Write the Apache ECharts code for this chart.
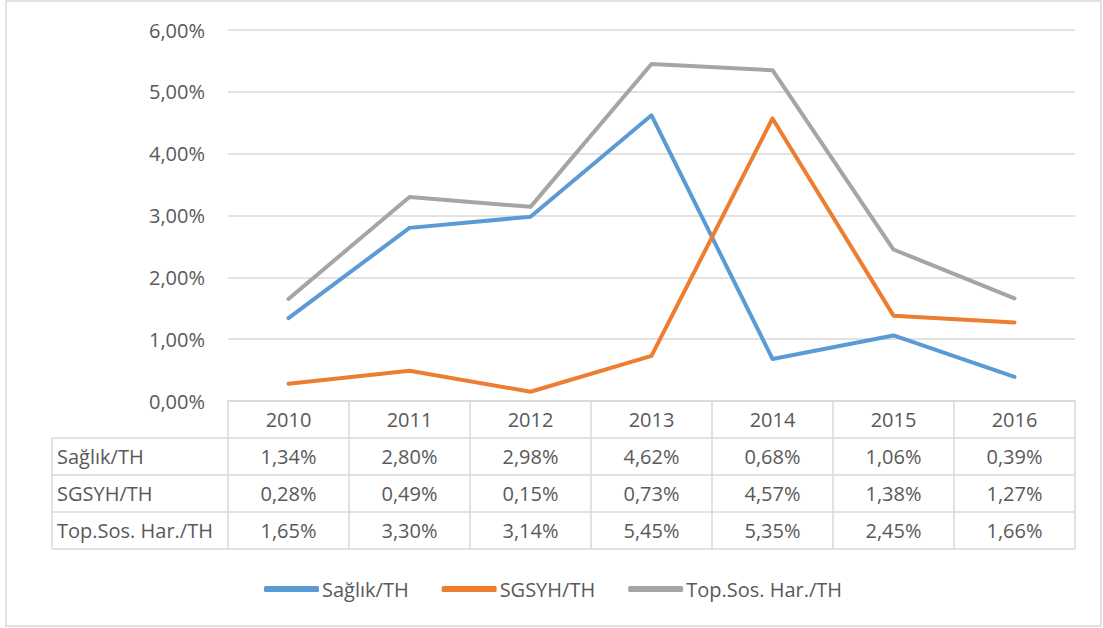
<!DOCTYPE html>
<html>
<head>
<meta charset="utf-8">
<script src="https://cdn.jsdelivr.net/npm/echarts@6/dist/echarts.min.js"></script>
<style>
  html, body { margin: 0; padding: 0; background: #fff; }
  #chart { width: 1103px; height: 628px; }
</style>
</head>
<body>
<div id="chart"></div>
<script>
var years = ['2010', '2011', '2012', '2013', '2014', '2015', '2016'];
var seriesNames = ['Sağlık/TH', 'SGSYH/TH', 'Top.Sos. Har./TH'];
var saglik = [1.34, 2.80, 2.98, 4.62, 0.68, 1.06, 0.39];
var sgsyh = [0.28, 0.49, 0.15, 0.73, 4.57, 1.38, 1.27];
var topSos = [1.65, 3.30, 3.14, 5.45, 5.35, 2.45, 1.66];
var colors = ['#5B9BD5', '#ED7D31', '#A5A5A5'];

var font = '"Open Sans", sans-serif';
var fontSize = 20;
var textColor = '#595959';
var ruleColor = '#d9d9d9';

function pct(v) { return v.toFixed(2).replace('.', ',') + '%'; }

var chart = echarts.init(document.getElementById('chart'), null, { renderer: 'svg' });
var allData = [saglik, sgsyh, topSos];

chart.setOption({
  animation: false,
  textStyle: { fontFamily: font },
  grid: { left: 228, right: 28, top: 30, bottom: 227 },
  legend: {
    top: 574,
    left: 259,
    icon: 'roundRect',
    itemWidth: 55,
    itemHeight: 6,
    itemGap: 33,
    textStyle: { color: textColor, fontSize: fontSize, fontFamily: font, padding: [0, 0, 0, -2] },
    data: seriesNames
  },
  xAxis: {
    type: 'category',
    data: years,
    boundaryGap: true,
    axisLine: { lineStyle: { color: ruleColor, width: 1.5 } },
    axisTick: { show: false },
    axisLabel: { show: false }
  },
  yAxis: {
    type: 'value',
    min: 0, max: 6, interval: 1,
    axisLine: { show: false },
    axisTick: { show: false },
    splitLine: { lineStyle: { color: ruleColor, width: 1.5 } },
    axisLabel: {
      color: textColor, fontSize: fontSize, margin: 23, fontFamily: font,
      formatter: function (v) { return pct(v); }
    }
  },
  series: seriesNames.map(function (n, i) {
    return {
      name: n,
      type: 'line',
      data: allData[i],
      showSymbol: false,
      symbol: 'none',
      color: colors[i],
      lineStyle: { width: 4, color: colors[i], cap: 'round', join: 'round' },
      z: 3 + i
    };
  })
});

// data table under the plot
var c0 = chart.convertToPixel({ xAxisIndex: 0 }, 0);
var c1 = chart.convertToPixel({ xAxisIndex: 0 }, 1);
var half = (c1 - c0) / 2;
var yTop = chart.convertToPixel({ yAxisIndex: 0 }, 0);
var rowH = 37;
var labelLeft = 52;
var xLeft = c0 - half;
var xRight = chart.convertToPixel({ xAxisIndex: 0 }, years.length - 1) + half;
var lineStyle = { stroke: ruleColor, lineWidth: 1.5 };
var g = [];

// outer chart frame
g.push({ type: 'rect', shape: { x: 6, y: 1, width: 1095, height: 625 }, style: { fill: 'none', stroke: ruleColor, lineWidth: 1.5 }, silent: true });

for (var r = 1; r <= 4; r++) {
  g.push({ type: 'line', shape: { x1: labelLeft, y1: yTop + r * rowH, x2: xRight, y2: yTop + r * rowH }, style: lineStyle });
}
g.push({ type: 'line', shape: { x1: labelLeft, y1: yTop + rowH, x2: labelLeft, y2: yTop + 4 * rowH }, style: lineStyle });
for (var k = 0; k <= years.length; k++) {
  var xx = xLeft + k * 2 * half;
  g.push({ type: 'line', shape: { x1: xx, y1: yTop, x2: xx, y2: yTop + 4 * rowH }, style: lineStyle });
}
var tf = fontSize + 'px ' + font;
years.forEach(function (y, i) {
  var cx = chart.convertToPixel({ xAxisIndex: 0 }, i);
  g.push({ type: 'text', x: cx, y: yTop + rowH / 2, style: { text: y, font: tf, fill: textColor, align: 'center', verticalAlign: 'middle' } });
  allData.forEach(function (arr, s) {
    g.push({ type: 'text', x: cx, y: yTop + (s + 1.5) * rowH, style: { text: pct(arr[i]), font: tf, fill: textColor, align: 'center', verticalAlign: 'middle' } });
  });
});
seriesNames.forEach(function (n, s) {
  g.push({ type: 'text', x: labelLeft + 5, y: yTop + (s + 1.5) * rowH, style: { text: n, font: tf, fill: textColor, align: 'left', verticalAlign: 'middle' } });
});

chart.setOption({ graphic: g });
</script>
</body>
</html>
